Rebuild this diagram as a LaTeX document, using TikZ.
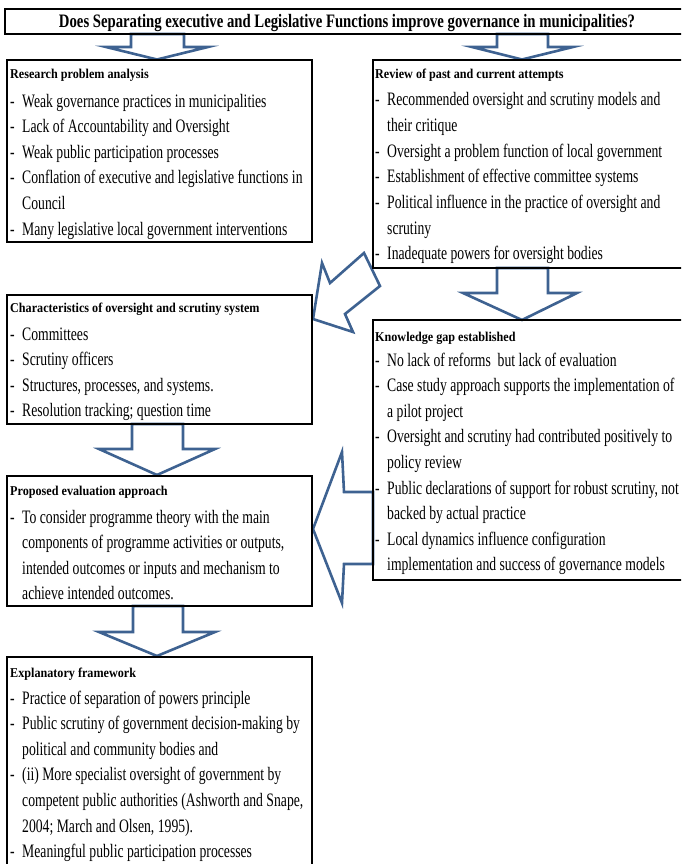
\documentclass[tikz,border=0pt]{standalone}
\usepackage{fontspec}
\setmainfont{Liberation Serif}
\newfontfamily\bodyf[FakeStretch=0.72]{Liberation Serif}
\newfontfamily\headf[FakeStretch=0.90]{Liberation Serif}
\newfontfamily\titlef[FakeStretch=0.775]{Liberation Serif}
\definecolor{arrowblue}{RGB}{62,98,145}
\tikzset{
  panel/.style={draw=black, line width=1.8pt, inner sep=0pt, outer sep=0pt, anchor=north west},
  bigarrow/.style={draw=arrowblue, fill=white, line width=2.6pt, line join=miter},
  bodytxt/.style={font=\bodyf\fontsize{19}{23}\selectfont, inner sep=0pt, anchor=base west},
  headtxt/.style={font=\headf\bfseries\fontsize{13.5}{16}\selectfont, inner sep=0pt, anchor=base west},
  titletxt/.style={font=\titlef\bfseries\fontsize{19}{23}\selectfont, inner sep=0pt, anchor=base},
}
\newcommand\panellines[4]{%
  \foreach [count=\ii] \dsh/\txt in {#4} {
    \pgfmathsetmacro\yy{#3+25.6*(\ii-1)}
    \ifnum\dsh=1 \node[bodytxt] (#1d\ii) at (#2,\yy) {-};\fi
    \node[bodytxt] (#1l\ii) at (#2+12,\yy) {\txt};
  }}
\begin{document}
\begin{tikzpicture}[x=1pt,y=-1pt]
\useasboundingbox (0,0) rectangle (681,864);
\clip (0,0) rectangle (681,864);

% block arrows
\draw[bigarrow] (131,34) -- (131,47) -- (106,47) -- (157,59.5) -- (208,47) -- (184,47) -- (184,34) -- cycle;
\draw[bigarrow] (497,34) -- (497,47) -- (472,47) -- (522,59.5) -- (573,47) -- (548,47) -- (548,34) -- cycle;
\draw[bigarrow] (497,268) -- (497,293) -- (463,293) -- (522,320) -- (577,293) -- (548,293) -- (548,268) -- cycle;
\draw[bigarrow] (132,424) -- (132,449) -- (99,449) -- (157,475) -- (215,449) -- (183,449) -- (183,424) -- cycle;
\draw[bigarrow] (133,606) -- (133,632) -- (99,632) -- (157,656) -- (215,632) -- (183,632) -- (183,606) -- cycle;
\draw[bigarrow] (313,319) -- (322,263) -- (330,283) -- (364,253) -- (380,286) -- (345,314) -- (353,332) -- cycle;
\draw[bigarrow] (313,529) -- (342,452) -- (344,492) -- (373,492) -- (373,564) -- (344,564) -- (342,603) -- cycle;

% boxes
\node[panel, minimum width=700pt, minimum height=25pt] (titlebox) at (5,9) {};
\node[panel, minimum width=305pt, minimum height=182pt] (rpa) at (7,60) {};
\node[panel, minimum width=330pt, minimum height=208pt] (rev) at (373,60) {};
\node[panel, minimum width=305pt, minimum height=129pt] (chr) at (7,295) {};
\node[panel, minimum width=330pt, minimum height=260pt] (kng) at (373,320) {};
\node[panel, minimum width=305pt, minimum height=130pt] (pea) at (7,476) {};
\node[panel, minimum width=305pt, minimum height=230pt] (exf) at (7,657) {};

% title
\node[titletxt] (title) at (347,28) {Does Separating executive and Legislative Functions improve governance in municipalities?};

% headers
\node[headtxt] (rpah) at (10,79) {Research problem analysis};
\node[headtxt] (revh) at (375,79) {Review of past and current attempts};
\node[headtxt] (chrh) at (10,312.5) {Characteristics of oversight and scrutiny system};
\node[headtxt] (kngh) at (375,341) {Knowledge gap established};
\node[headtxt] (peah) at (10,495) {Proposed evaluation approach};
\node[headtxt] (exfh) at (10,677) {Explanatory framework};

% body lines
\panellines{rpa}{10}{107}{1/Weak governance practices in municipalities,
  1/Lack of Accountability and Oversight,
  1/Weak public participation processes,
  1/Conflation of executive and legislative functions in,
  0/Council,
  1/Many legislative local government interventions}
\panellines{rev}{375}{106}{1/Recommended oversight and scrutiny models and,
  0/their critique,
  1/Oversight a problem function of local government,
  1/Establishment of effective committee systems,
  1/Political influence in the practice of oversight and,
  0/scrutiny,
  1/Inadequate powers for oversight bodies}
\panellines{chr}{10}{340}{1/Committees,
  1/Scrutiny officers,
  1/{Structures, processes, and systems.},
  1/Resolution tracking; question time}
\panellines{kng}{375}{366}{1/No lack of reforms~ but lack of evaluation,
  1/Case study approach supports the implementation of,
  0/a pilot project,
  1/Oversight and scrutiny had contributed positively to,
  0/policy review,
  1/{Public declarations of support for robust scrutiny, not},
  0/backed by actual practice,
  1/Local dynamics influence configuration,
  0/implementation and success of governance models}
\panellines{pea}{10}{523}{1/To consider programme theory with the main,
  0/{components of programme activities or outputs,},
  0/intended outcomes or inputs and mechanism to,
  0/achieve intended outcomes.}
\panellines{exf}{10}{704}{1/Practice of separation of powers principle,
  1/Public scrutiny of government decision-making by,
  0/political and community bodies and,
  1/(ii) More specialist oversight of government by,
  0/{competent public authorities (Ashworth and Snape,},
  0/{2004; March and Olsen, 1995).},
  1/Meaningful public participation processes}
\end{tikzpicture}
\end{document}
